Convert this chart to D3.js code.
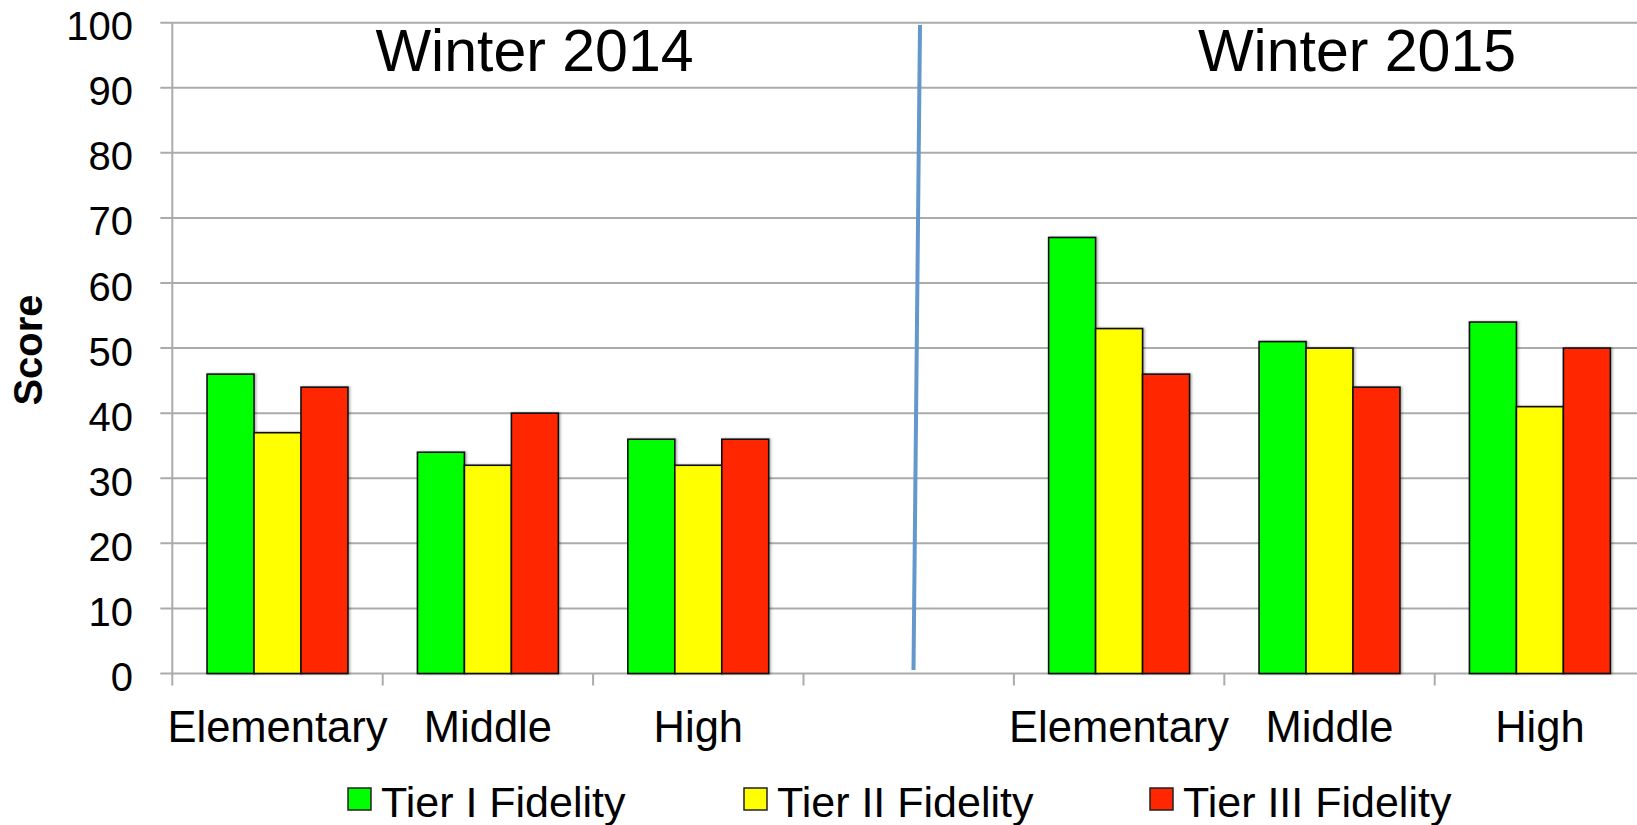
<!DOCTYPE html>
<html>
<head>
<meta charset="utf-8">
<script src="https://cdn.jsdelivr.net/npm/d3@7/dist/d3.min.js"></script>
<style>
  html, body { margin: 0; padding: 0; background: #fff; }
  svg { display: block; font-family: "Liberation Sans", Arial, sans-serif; }
</style>
</head>
<body>
<svg id="chart" width="1637" height="825"></svg>
<script>
// ---- data ----
const periods = ["Winter 2014", "Winter 2015"];
const schools = ["Elementary", "Middle", "High"];
const seriesNames = ["Tier I Fidelity", "Tier II Fidelity", "Tier III Fidelity"];
const seriesColors = ["#00FF00", "#FFFF00", "#FF2600"];
const yTicks = [0, 10, 20, 30, 40, 50, 60, 70, 80, 90, 100];

// scores per school level (Elementary, Middle, High)
const tier1_2014 = [46, 34, 36];
const tier2_2014 = [37, 32, 32];
const tier3_2014 = [44, 40, 36];
const tier1_2015 = [67, 51, 54];
const tier2_2015 = [53, 50, 41];
const tier3_2015 = [46, 44, 50];

const valuesByPeriod = [
  [tier1_2014, tier2_2014, tier3_2014],
  [tier1_2015, tier2_2015, tier3_2015]
];

// slots along the category axis: three schools, an empty spacer, three schools
const slots = [];
periods.forEach((p, pi) => {
  schools.forEach((s, si) => slots.push({ key: pi + "-" + si, label: s, period: pi, school: si }));
  if (pi < periods.length - 1) slots.push({ key: "gap-" + pi, label: "", period: pi, school: -1 });
});

const rows = [];
slots.forEach(slot => {
  if (slot.school < 0) return;
  seriesNames.forEach((name, k) => {
    rows.push({ slot: slot.key, series: name, value: valuesByPeriod[slot.period][k][slot.school] });
  });
});

// ---- layout ----
const svg = d3.select("#chart");
const plotLeft = 172.3, plotTop = 22.7, plotBottom = 673.5, slotStep = 210.4;

const x0 = d3.scaleBand()
  .domain(slots.map(d => d.key))
  .range([plotLeft, plotLeft + slotStep * slots.length])
  .paddingInner(0).paddingOuter(0);

const x1 = d3.scaleBand()
  .domain(seriesNames)
  .range([0, x0.bandwidth()])
  .paddingInner(0).paddingOuter(0.74);

const y = d3.scaleLinear().domain([0, 100]).range([plotBottom, plotTop]);
const color = d3.scaleOrdinal().domain(seriesNames).range(seriesColors);

const gridColor = "#ABABAB";

// horizontal gridlines with short ticks to the left of the axis
svg.append("g").selectAll("line")
  .data(yTicks).join("line")
  .attr("x1", plotLeft - 12).attr("x2", 1637)
  .attr("y1", d => y(d)).attr("y2", d => y(d))
  .attr("stroke", gridColor).attr("stroke-width", 2);

// vertical axis line
svg.append("line")
  .attr("x1", plotLeft).attr("x2", plotLeft)
  .attr("y1", y(100)).attr("y2", y(0))
  .attr("stroke", gridColor).attr("stroke-width", 2);

// y tick labels
svg.append("g").selectAll("text")
  .data(yTicks).join("text")
  .attr("x", 133).attr("y", d => y(d) + 17.5)
  .attr("text-anchor", "end")
  .attr("font-size", 40)
  .attr("fill", "#000")
  .text(d => d);

// category tick marks at slot boundaries
const boundaries = slots.map(d => x0(d.key)).concat([x0.range()[1]]);
svg.append("g").selectAll("line")
  .data(boundaries).join("line")
  .attr("x1", d => d).attr("x2", d => d)
  .attr("y1", plotBottom).attr("y2", plotBottom + 12)
  .attr("stroke", gridColor).attr("stroke-width", 2);

// soft shadow behind the bars
const defs = svg.append("defs");
const f = defs.append("filter").attr("id", "barShadow").attr("x", "-10%").attr("y", "-5%").attr("width", "130%").attr("height", "115%");
f.append("feDropShadow").attr("dx", 1.5).attr("dy", 0).attr("stdDeviation", 1.2).attr("flood-color", "#000").attr("flood-opacity", 0.3);

// bars
svg.append("g").selectAll("rect")
  .data(rows).join("rect")
  .attr("x", d => x0(d.slot) + x1(d.series))
  .attr("y", d => y(d.value))
  .attr("width", x1.bandwidth())
  .attr("height", d => y(0) - y(d.value))
  .attr("fill", d => color(d.series))
  .attr("stroke", "#111")
  .attr("stroke-width", 1.6)
  .attr("filter", "url(#barShadow)");

// category labels
svg.append("g").selectAll("text")
  .data(slots.filter(d => d.label)).join("text")
  .attr("x", d => x0(d.key) + x0.bandwidth() / 2)
  .attr("y", 742)
  .attr("text-anchor", "middle")
  .attr("font-size", 43.5)
  .attr("fill", "#000")
  .text(d => d.label);

// period headings
const headingX = [534.5, 1357];
svg.append("g").selectAll("text")
  .data(periods).join("text")
  .attr("x", (d, i) => headingX[i])
  .attr("y", 71)
  .attr("text-anchor", "middle")
  .attr("font-size", 59)
  .attr("fill", "#000")
  .text(d => d);

// divider between the two periods
svg.append("line")
  .attr("x1", 920).attr("y1", 25)
  .attr("x2", 913.5).attr("y2", 670)
  .attr("stroke", "#6497CB").attr("stroke-width", 4);

// y axis title
svg.append("text")
  .attr("transform", "translate(42,350) rotate(-90)")
  .attr("text-anchor", "middle")
  .attr("font-size", 40)
  .attr("font-weight", "bold")
  .attr("fill", "#000")
  .text("Score");

// legend
const legendX = [348, 744, 1150];
const legend = svg.append("g").selectAll("g")
  .data(seriesNames).join("g")
  .attr("transform", (d, i) => `translate(${legendX[i]},0)`);
legend.append("rect")
  .attr("x", 0).attr("y", 788).attr("width", 23).attr("height", 22)
  .attr("fill", d => color(d))
  .attr("stroke", "#222").attr("stroke-width", 1.5);
legend.append("text")
  .attr("x", 33).attr("y", 817)
  .attr("font-size", 43)
  .attr("fill", "#000")
  .text(d => d);
</script>
</body>
</html>
